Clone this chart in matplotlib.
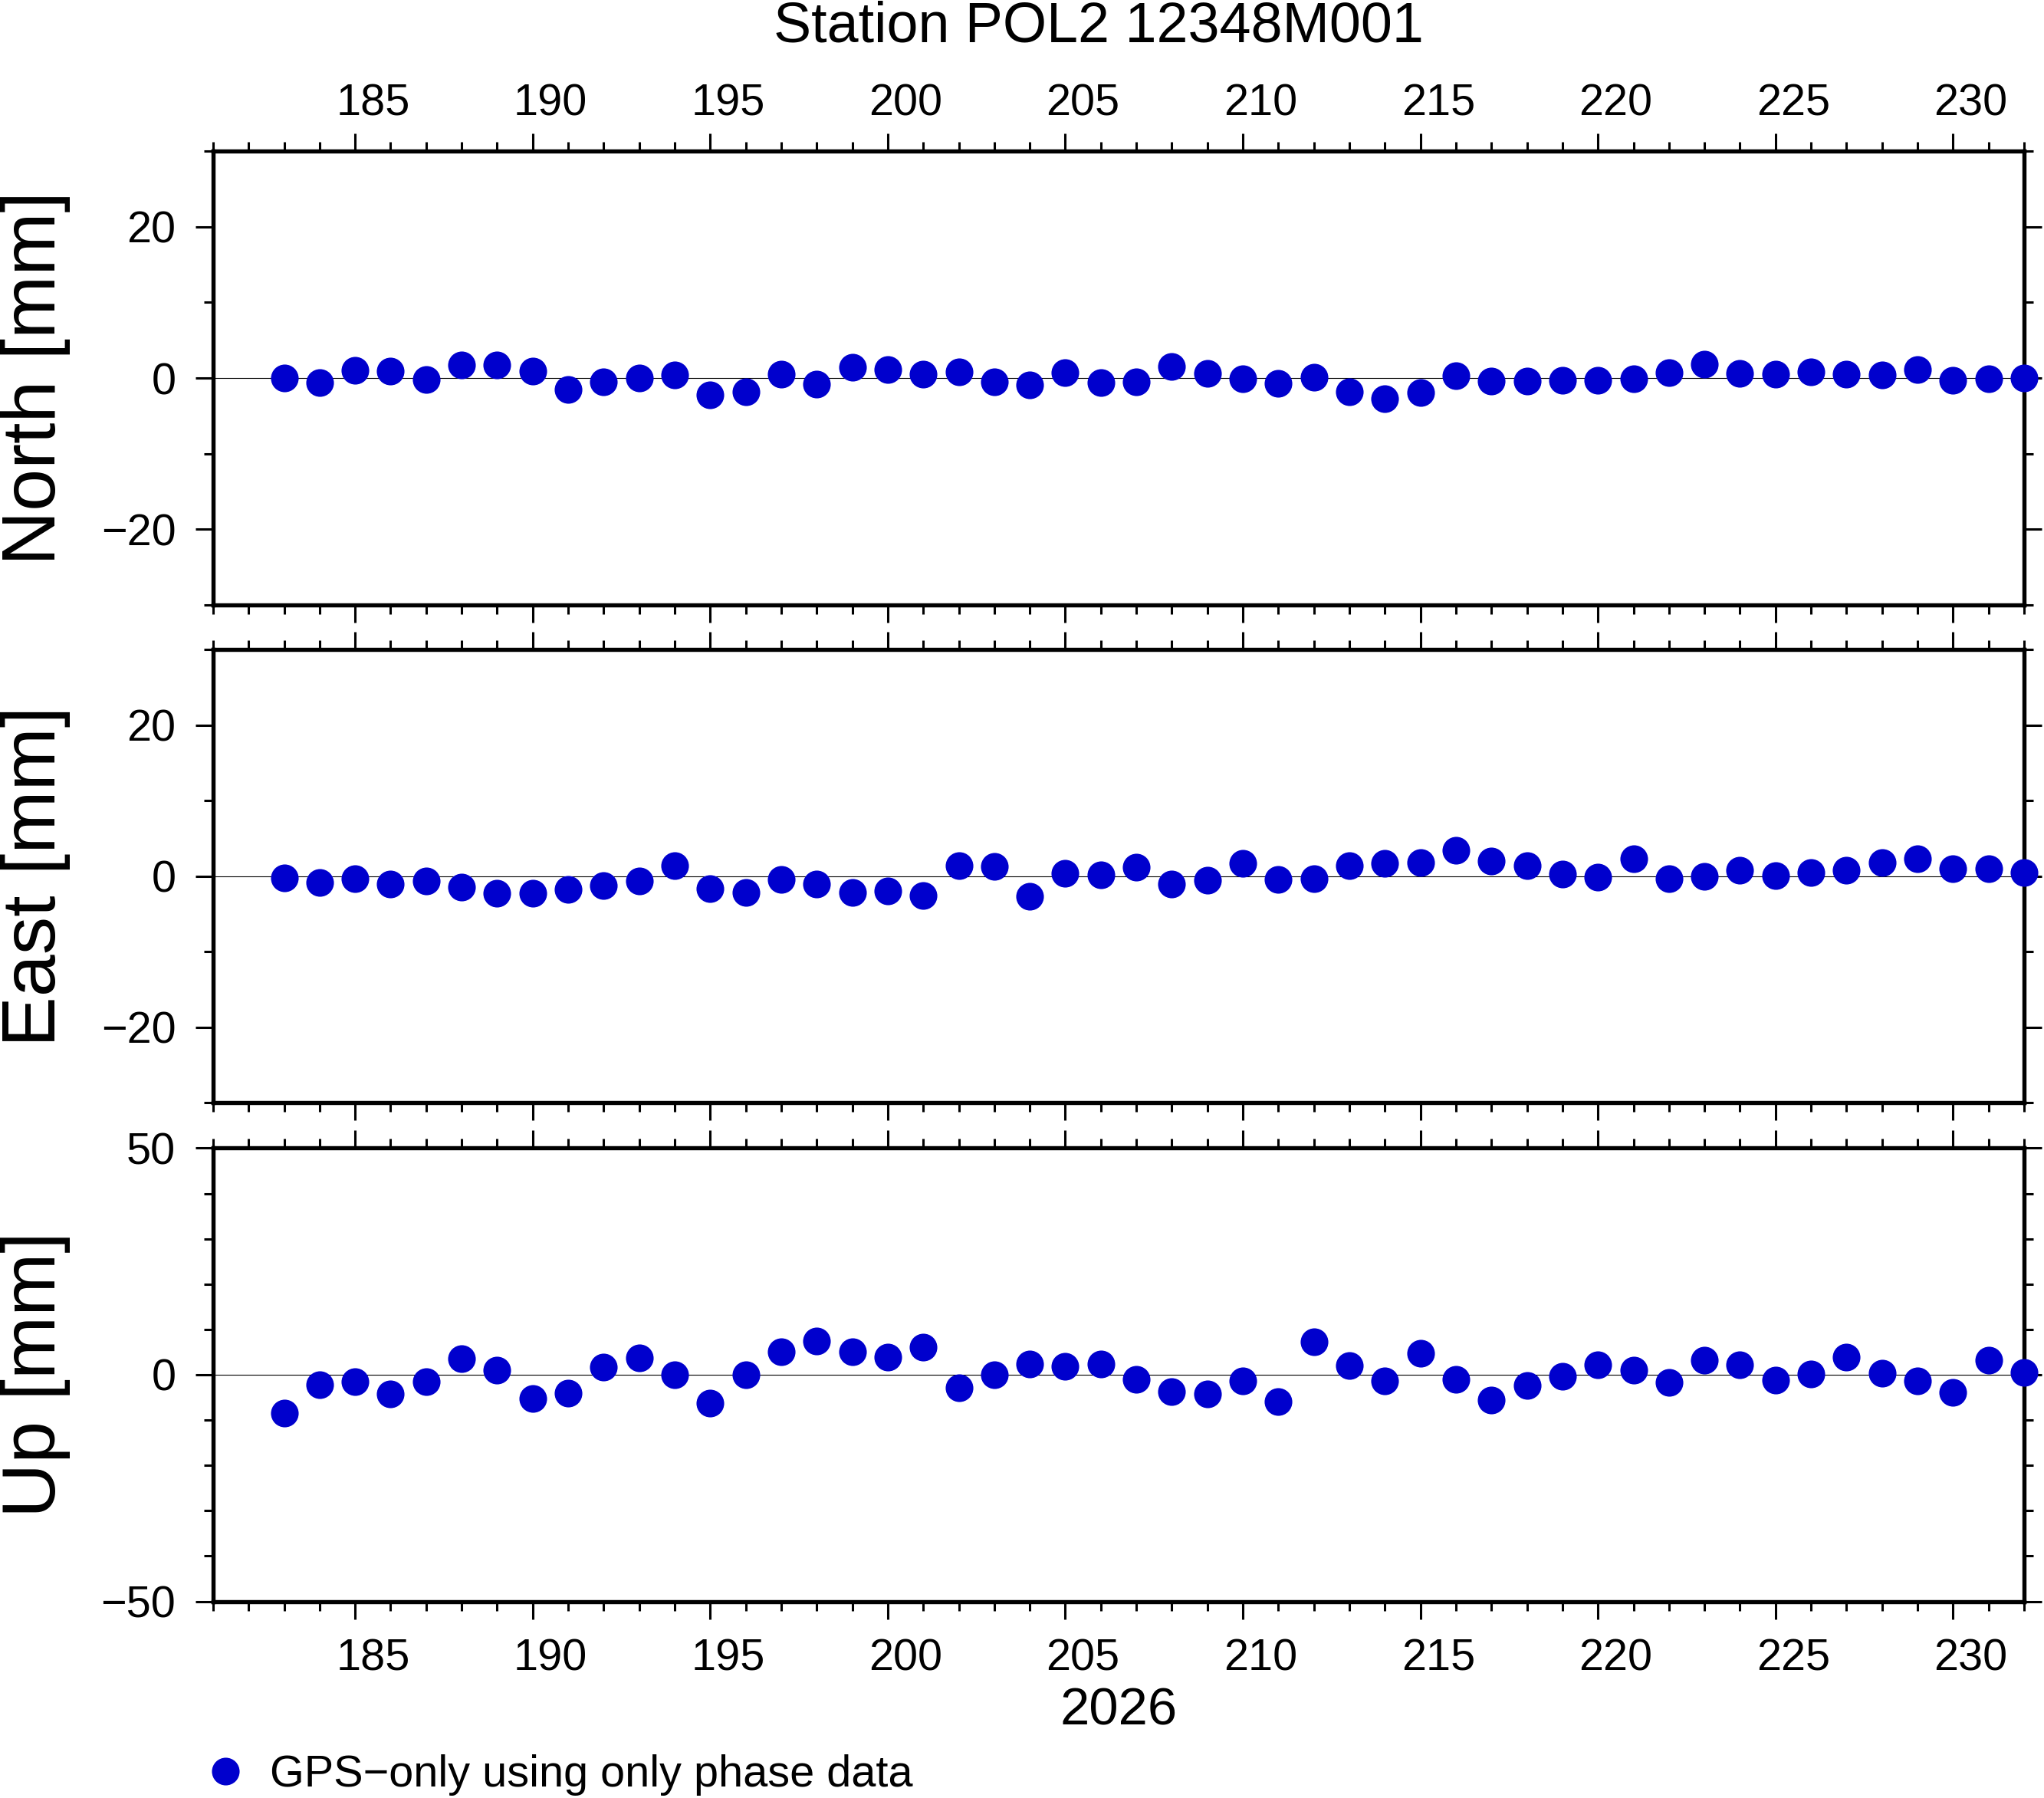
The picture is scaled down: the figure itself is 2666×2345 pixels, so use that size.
import matplotlib
matplotlib.use('Agg')
import matplotlib.pyplot as plt
from matplotlib.ticker import MultipleLocator
from matplotlib.transforms import ScaledTranslation

plt.rcParams['font.family'] = ['Liberation Sans', 'DejaVu Sans']
plt.rcParams['axes.unicode_minus'] = True

# ---------------- data ----------------
days = [183, 184, 185, 186, 187, 188, 189, 190, 191, 192,
        193, 194, 195, 196, 197, 198, 199, 200, 201, 202,
        203, 204, 205, 206, 207, 208, 209, 210, 211, 212,
        213, 214, 215, 216, 217, 218, 219, 220, 221, 222,
        223, 224, 225, 226, 227, 228, 229, 230, 231, 232]

north = [0.0, -0.6, 1.0, 0.9, -0.2, 1.7, 1.7, 0.9, -1.5, -0.5,
         0.0, 0.4, -2.2, -1.8, 0.5, -0.8, 1.4, 1.1, 0.5, 0.8,
         -0.5, -0.9, 0.7, -0.6, -0.5, 1.5, 0.6, -0.1, -0.7, 0.1,
         -1.8, -2.7, -1.9, 0.3, -0.4, -0.4, -0.3, -0.3, -0.1, 0.7,
         1.8, 0.6, 0.5, 0.8, 0.5, 0.4, 1.1, -0.3, -0.1, 0.0]

east = [-0.2, -0.8, -0.3, -1.0, -0.6, -1.4, -2.2, -2.2, -1.7, -1.2,
        -0.6, 1.4, -1.6, -2.1, -0.4, -1.0, -2.1, -1.9, -2.5, 1.4,
        1.3, -2.6, 0.4, 0.2, 1.2, -1.0, -0.5, 1.7, -0.4, -0.3,
        1.4, 1.7, 1.8, 3.4, 2.0, 1.4, 0.3, -0.1, 2.3, -0.3,
        0.0, 0.8, 0.1, 0.5, 0.8, 1.8, 2.3, 1.0, 1.0, 0.5]

up = [-8.4, -2.2, -1.5, -4.2, -1.5, 3.6, 1.0, -5.2, -4.1, 1.7,
      3.7, 0.0, -6.2, 0.0, 5.0, 7.4, 5.0, 3.9, 6.1, -2.9,
      0.0, 2.4, 1.9, 2.4, -1.0, -3.7, -4.2, -1.3, -5.9, 7.3,
      2.0, -1.3, 4.8, -1.0, -5.5, -2.4, -0.4, 2.2, 1.0, -1.7,
      3.2, 2.2, -1.2, 0.2, 3.9, 0.4, -1.3, -3.9, 3.2, 0.5]

panel_labels = ['North [mm]', 'East [mm]', 'Up [mm]']
panel_values = [north, east, up]
panel_ylims = [(-30, 30), (-30, 30), (-50, 50)]
panel_major = [20, 20, 50]
panel_minor = [10, 10, 10]

title = 'Station POL2 12348M001'
year_label = '2026'
series_label = 'GPS\u2212only using only phase data'
x_range = (181, 232)

BLUE = '#0000CD'

# ---------------- figure ----------------
fig = plt.figure(figsize=(26.66, 23.45), dpi=100)
L, W, H = 0.10424, 0.88601, 0.25203
bottoms = [0.66375, 0.38657, 0.10938]

TICK_FS = 41.5
axes = []
handle = None
for i in range(3):
    ax = fig.add_axes([L, bottoms[i], W, H])
    axes.append(ax)
    ax.axhline(0, color='black', lw=0.8, zorder=1)
    ln, = ax.plot(days, panel_values[i], 'o', color=BLUE, ms=26, mec='none',
                  clip_on=False, zorder=5, label=series_label)
    handle = ln
    ax.set_xlim(*x_range)
    ax.set_ylim(*panel_ylims[i])
    ax.xaxis.set_major_locator(MultipleLocator(5))
    ax.xaxis.set_minor_locator(MultipleLocator(1))
    ax.yaxis.set_major_locator(MultipleLocator(panel_major[i]))
    ax.yaxis.set_minor_locator(MultipleLocator(panel_minor[i]))
    for s in ax.spines.values():
        s.set_linewidth(3.9)
        s.set_zorder(4)
    ax.tick_params(which='both', direction='out', top=True, bottom=True,
                   left=True, right=True, width=2.2, labelsize=TICK_FS,
                   colors='black')
    ax.tick_params(which='major', length=16.5)
    ax.tick_params(which='minor', length=8.5)
    ax.tick_params(axis='y', pad=18.5, labelleft=True, labelright=False)
    ax.tick_params(axis='x', labeltop=(i == 0), labelbottom=(i == 2),
                   pad=(8.4 if i == 0 else 18.0))
    ax.set_ylabel(panel_labels[i], fontsize=71)
    ax.yaxis.set_label_coords(-0.0871, 0.5)
    ax.yaxis.label.set_va('baseline')

axes[2].set_xlabel(year_label, fontsize=49.5)
axes[2].xaxis.set_label_coords(0.5, -0.2729)
axes[2].xaxis.label.set_va('baseline')

fig.text(0.5375, 0.97655, title, ha='center', va='baseline', fontsize=53)

fig.legend(handles=[handle], labels=[series_label], loc='center left',
           bbox_to_anchor=(276.7 / 2666, 1 - 2315 / 2345), frameon=False,
           fontsize=TICK_FS, handlelength=0.6, handletextpad=0.707,
           borderpad=0, borderaxespad=0)

# shift day annotations to the middle of the day interval (GMT style)
dx = W * 26.66 / (x_range[1] - x_range[0]) * 0.5
offset = ScaledTranslation(dx, 0, fig.dpi_scale_trans)
for ax in axes:
    for tick in ax.xaxis.get_major_ticks():
        tick.label1.set_transform(tick.label1.get_transform() + offset)
        tick.label2.set_transform(tick.label2.get_transform() + offset)

fig.savefig('out.png', dpi=100)
